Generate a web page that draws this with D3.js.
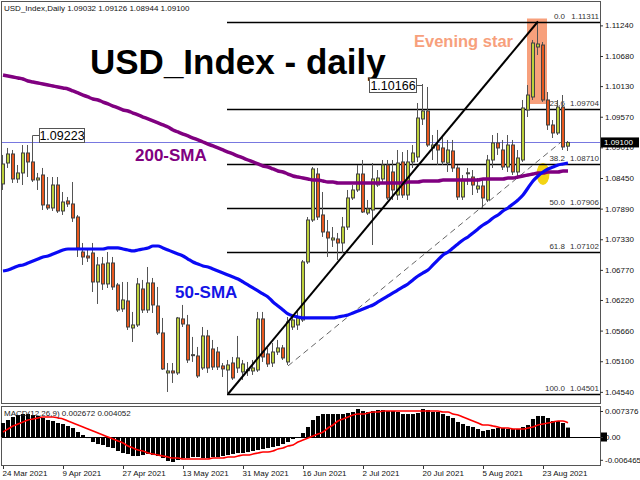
<!DOCTYPE html>
<html><head><meta charset="utf-8">
<script src="https://cdn.jsdelivr.net/npm/d3@7/dist/d3.min.js"></script>
<style>
html,body{margin:0;padding:0;background:#fff;}
svg{display:block;font-family:"Liberation Sans",Arial,sans-serif;}
</style></head><body>
<svg id="c" width="640" height="480"></svg>
<script>
// ---------- DATA ----------
const open = [1.08341,1.08724,1.08889,1.08432,1.08542,1.08907,1.08743,1.08414,1.08505,1.07957,
1.07902,1.08322,1.07847,1.08030,1.07975,1.07737,1.07097,1.07024,1.07079,1.06549,
1.06878,1.06513,1.06896,1.06494,1.06056,1.06202,1.05708,1.05763,1.06421,1.06037,
1.06531,1.06110,1.05617,1.04886,1.04922,1.04886,1.05873,1.05763,1.05215,1.05196,
1.04977,1.05562,1.05324,1.05269,1.05014,1.04940,1.05068,1.04977,1.04904,1.04940,
1.04922,1.04940,1.05873,1.05233,1.05068,1.05269,1.05343,1.05087,1.05726,1.05763,
1.05854,1.06915,1.07682,1.08523,1.07774,1.07463,1.07317,1.07335,1.07262,1.07554,
1.08085,1.08231,1.08523,1.07810,1.07865,1.08322,1.08432,1.08688,1.08560,1.08139,
1.08743,1.08139,1.08743,1.08834,1.09529,1.09675,1.08999,1.09053,1.08999,1.08724,
1.08944,1.08633,1.08103,1.08542,1.08468,1.08249,1.08304,1.08048,1.08779,1.09090,
1.08962,1.08651,1.09053,1.08560,1.08779,1.09693,1.09931,1.10845,1.10881,1.09876,
1.09419,1.09273,1.09748,1.09032];
const high = [1.08871,1.08999,1.08962,1.08688,1.09053,1.09053,1.09223,1.08542,1.08633,1.08468,
1.08468,1.08468,1.08194,1.08103,1.08377,1.07774,1.07262,1.07134,1.07262,1.07006,
1.07006,1.07097,1.07006,1.06531,1.06549,1.06549,1.06001,1.06622,1.06586,1.06823,
1.06622,1.06458,1.05891,1.05068,1.05068,1.05909,1.06129,1.05946,1.05544,1.05361,
1.05726,1.05672,1.05489,1.05361,1.05068,1.05123,1.05178,1.05562,1.05123,1.05087,
1.05123,1.06001,1.06001,1.05343,1.05434,1.05489,1.05397,1.05909,1.05946,1.06037,
1.06951,1.07737,1.08651,1.08633,1.08194,1.07682,1.07554,1.07445,1.07737,1.08231,
1.08322,1.08688,1.08779,1.08048,1.08724,1.08596,1.08779,1.08779,1.08779,1.08962,
1.08925,1.08962,1.09053,1.09821,1.10166,1.10114,1.09236,1.09328,1.09236,1.09145,
1.09145,1.08688,1.08505,1.08633,1.08596,1.08450,1.08450,1.08871,1.09236,1.09273,
1.09145,1.09236,1.09145,1.08962,1.09876,1.10150,1.10973,1.11311,1.10936,1.10022,
1.09510,1.09876,1.09967,1.09126];
const low = [1.08231,1.08633,1.08359,1.08359,1.08322,1.08468,1.08377,1.08231,1.07865,1.07865,
1.07847,1.07810,1.07774,1.07920,1.07646,1.07006,1.06860,1.06915,1.06366,1.06147,
1.06403,1.06439,1.06403,1.06001,1.06001,1.05672,1.05452,1.05726,1.05982,1.05982,
1.05982,1.05580,1.04940,1.04538,1.04703,1.04849,1.05726,1.05068,1.05087,1.04794,
1.04940,1.04886,1.04940,1.04940,1.04812,1.04501,1.04758,1.04886,1.04758,1.04831,
1.04849,1.04904,1.05087,1.04995,1.04995,1.05215,1.05123,1.05032,1.05672,1.05672,
1.05818,1.06878,1.07646,1.07682,1.07372,1.07006,1.07189,1.06951,1.07079,1.07500,
1.08048,1.08194,1.07810,1.07774,1.07225,1.08286,1.08359,1.08048,1.08048,1.08048,
1.08085,1.08048,1.08633,1.08743,1.09419,1.09017,1.08779,1.08688,1.08688,1.08560,
1.08560,1.08048,1.08048,1.08322,1.08139,1.08176,1.07902,1.08011,1.08633,1.08871,
1.08596,1.08560,1.08505,1.08450,1.08743,1.09565,1.09876,1.10699,1.09839,1.09328,
1.09181,1.09236,1.08962,1.08944];
const close = [1.08706,1.08889,1.08432,1.08542,1.08907,1.08743,1.08414,1.08450,1.07957,1.07902,
1.08322,1.07847,1.08011,1.07975,1.07719,1.07171,1.07006,1.06988,1.06549,1.06860,
1.06513,1.06896,1.06458,1.06037,1.06220,1.05726,1.05763,1.06513,1.06037,1.06531,
1.06129,1.05617,1.04959,1.04922,1.04886,1.05891,1.05781,1.05123,1.05220,1.04831,
1.05562,1.04977,1.04995,1.04995,1.04959,1.05032,1.04794,1.05160,1.05050,1.04945,
1.04977,1.05873,1.05178,1.05050,1.05269,1.05343,1.05160,1.05818,1.05854,1.05891,
1.06915,1.07682,1.08615,1.07737,1.07463,1.07353,1.07353,1.07262,1.07554,1.08085,
1.08231,1.08523,1.07829,1.07884,1.08432,1.08450,1.08688,1.08085,1.08231,1.08724,
1.08139,1.08743,1.08907,1.09547,1.09675,1.09053,1.09053,1.08962,1.08743,1.08962,
1.08633,1.08103,1.08414,1.08545,1.08322,1.08304,1.08085,1.08779,1.09090,1.08999,
1.08651,1.09053,1.08560,1.08816,1.09730,1.09967,1.10918,1.10900,1.09876,1.09419,
1.09273,1.09748,1.09017,1.09100];
const sma50 = [1.06750,1.06768,1.06805,1.06842,1.06860,1.06896,1.06933,1.06969,1.07006,1.07024,
1.07061,1.07097,1.07134,1.07152,1.07152,1.07152,1.07152,1.07152,1.07152,1.07152,
1.07152,1.07171,1.07171,1.07171,1.07152,1.07134,1.07116,1.07134,1.07152,1.07171,
1.07207,1.07207,1.07171,1.07134,1.07097,1.07061,1.07024,1.06969,1.06915,1.06878,
1.06842,1.06823,1.06787,1.06750,1.06714,1.06677,1.06640,1.06604,1.06549,1.06494,
1.06439,1.06385,1.06330,1.06275,1.06184,1.06110,1.06037,1.05964,1.05927,1.05909,
1.05891,1.05891,1.05891,1.05891,1.05891,1.05891,1.05891,1.05909,1.05927,1.05946,
1.05982,1.06019,1.06056,1.06092,1.06129,1.06184,1.06238,1.06293,1.06348,1.06403,
1.06458,1.06513,1.06586,1.06659,1.06714,1.06768,1.06860,1.06951,1.07043,1.07097,
1.07171,1.07244,1.07317,1.07372,1.07445,1.07518,1.07591,1.07646,1.07719,1.07774,
1.07847,1.07902,1.07975,1.08048,1.08139,1.08268,1.08395,1.08487,1.08560,1.08615,
1.08651,1.08688,1.08706,1.08724];
const sma200 = [1.10333,1.10315,1.10296,1.10278,1.10260,1.10223,1.10205,1.10187,1.10169,1.10150,
1.10132,1.10114,1.10095,1.10077,1.10041,1.10004,1.09967,1.09931,1.09894,1.09876,
1.09839,1.09803,1.09766,1.09730,1.09693,1.09675,1.09638,1.09602,1.09565,1.09529,
1.09492,1.09456,1.09419,1.09382,1.09328,1.09291,1.09254,1.09218,1.09181,1.09145,
1.09108,1.09071,1.09035,1.08999,1.08962,1.08925,1.08889,1.08852,1.08816,1.08779,
1.08743,1.08706,1.08669,1.08651,1.08615,1.08578,1.08560,1.08523,1.08487,1.08468,
1.08450,1.08432,1.08414,1.08414,1.08395,1.08377,1.08377,1.08359,1.08359,1.08359,
1.08359,1.08359,1.08359,1.08359,1.08359,1.08359,1.08359,1.08359,1.08359,1.08359,
1.08359,1.08377,1.08377,1.08377,1.08395,1.08395,1.08395,1.08395,1.08414,1.08414,
1.08414,1.08414,1.08414,1.08414,1.08414,1.08414,1.08432,1.08432,1.08432,1.08432,
1.08432,1.08450,1.08450,1.08468,1.08487,1.08505,1.08523,1.08542,1.08542,1.08560,
1.08560,1.08560,1.08578,1.08578];
const macd = [0.00397,0.00482,0.00567,0.00624,0.00652,0.00652,0.00624,0.00596,0.00539,0.00482,
0.00454,0.00397,0.00369,0.00312,0.00255,0.00142,0.00057,-0.00030,-0.00142,-0.00199,
-0.00227,-0.00284,-0.00312,-0.00397,-0.00454,-0.00482,-0.00539,-0.00539,-0.00511,-0.00482,
-0.00511,-0.00539,-0.00596,-0.00681,-0.00709,-0.00652,-0.00596,-0.00596,-0.00567,-0.00567,
-0.00596,-0.00596,-0.00567,-0.00567,-0.00539,-0.00511,-0.00482,-0.00454,-0.00454,-0.00426,
-0.00397,-0.00369,-0.00340,-0.00312,-0.00284,-0.00255,-0.00199,-0.00142,-0.00057,-0.00010,
0.00113,0.00284,0.00482,0.00596,0.00652,0.00652,0.00652,0.00652,0.00652,0.00681,
0.00709,0.00794,0.00738,0.00709,0.00738,0.00766,0.00766,0.00738,0.00738,0.00709,
0.00652,0.00652,0.00652,0.00681,0.00794,0.00766,0.00709,0.00709,0.00652,0.00596,
0.00539,0.00426,0.00369,0.00312,0.00284,0.00227,0.00170,0.00199,0.00227,0.00255,
0.00255,0.00227,0.00227,0.00227,0.00284,0.00340,0.00511,0.00596,0.00596,0.00539,
0.00454,0.00454,0.00397,0.002672];
const signal = [0.00142,0.00227,0.00312,0.00369,0.00426,0.00482,0.00511,0.00539,0.00567,0.00567,
0.00567,0.00539,0.00511,0.00454,0.00397,0.00340,0.00284,0.00227,0.00170,0.00113,
0.00057,0.00000,-0.00057,-0.00113,-0.00170,-0.00255,-0.00312,-0.00369,-0.00397,-0.00454,
-0.00482,-0.00511,-0.00539,-0.00567,-0.00596,-0.00596,-0.00624,-0.00624,-0.00624,-0.00624,
-0.00624,-0.00624,-0.00596,-0.00596,-0.00596,-0.00567,-0.00567,-0.00539,-0.00511,-0.00511,
-0.00482,-0.00454,-0.00426,-0.00426,-0.00397,-0.00340,-0.00312,-0.00255,-0.00227,-0.00142,
-0.00085,-0.00028,0.00028,0.00085,0.00142,0.00255,0.00340,0.00454,0.00511,0.00567,
0.00624,0.00652,0.00652,0.00681,0.00709,0.00709,0.00738,0.00738,0.00738,0.00738,
0.00738,0.00738,0.00738,0.00738,0.00738,0.00738,0.00738,0.00738,0.00709,0.00709,
0.00652,0.00624,0.00567,0.00511,0.00454,0.00397,0.00340,0.00340,0.00312,0.00284,
0.00255,0.00255,0.00227,0.00227,0.00227,0.00255,0.00284,0.00340,0.00369,0.00397,
0.00426,0.00454,0.00454,0.004052];
const priceTicks = [1.11240,1.10680,1.10130,1.09570,1.09010,1.08450,1.07890,1.07330,1.06770,1.06220,1.05660,1.05100,1.04540];
const macdTickLabels = ["0.007376","0.00","-0.006465"];
const macdTickValues = [0.007376,0,-0.006465];
const dateTickLabels = ["24 Mar 2021","9 Apr 2021","27 Apr 2021","13 May 2021","31 May 2021","16 Jun 2021","2 Jul 2021","20 Jul 2021","5 Aug 2021","23 Aug 2021"];
const fibLevels = ["0.0","23.6","38.2","50.0","61.8","100.0"];
const fibPrices = [1.11311,1.09704,1.08710,1.07906,1.07102,1.04501];
const lastPrice = 1.09100;
const headerText = "USD_Index,Daily  1.09032 1.09126 1.08944 1.09100";
const macdText = "MACD(12,26,9) 0.002672 0.004052";

// trading days (weekdays) starting 24 Mar 2021
const n = open.length;
const dates = [];
for (let d = new Date(Date.UTC(2021,2,24)); dates.length < n; d.setUTCDate(d.getUTCDate()+1)) {
  const wd = d.getUTCDay(); if (wd !== 0 && wd !== 6) dates.push(new Date(d));
}
const fmt = d3.utcFormat("%-d %b %Y");

// ---------- SCALES ----------
const svg = d3.select("#c");
const x = d3.scaleLinear().domain([0, n-1]).range([3, 3 + 5*(n-1)]);
const y = d3.scaleLinear().domain([1.04501, 1.11311]).range([394, 21.5]);
const ym = d3.scaleLinear().domain([-0.006465, 0.007376]).range([459.8, 411]);

const FONT = "Liberation Sans, Arial, sans-serif";

// frames
svg.append("rect").attr("x",1.5).attr("y",1.5).attr("width",599).attr("height",402)
  .attr("fill","#fff").attr("stroke","#555");
svg.append("rect").attr("x",1.5).attr("y",406.5).attr("width",599).attr("height",59)
  .attr("fill","#fff").attr("stroke","#555");

const main = svg.append("g");

// evening star highlight
main.append("rect")
  .attr("x", x(106)-6).attr("y", y(high[107])-3)
  .attr("width", x(108)+4-(x(106)-6)).attr("height", y(low[108])+2-(y(high[107])-3))
  .attr("fill","#f7a07c");

// yellow ellipse
main.append("ellipse").attr("cx", x(108)).attr("cy", y(1.08523)).attr("rx",6.5).attr("ry",11).attr("fill","#f3d414");

// fib lines
fibPrices.forEach((p,k)=>{
  main.append("line").attr("x1", x(45)-1).attr("x2", 600).attr("y1", Math.round(y(p))+0.5).attr("y2", Math.round(y(p))+0.5)
    .attr("stroke","#000").attr("stroke-width", k===5 ? 1.6 : 1.3);
  main.append("text").attr("x",565).attr("y", y(p)-3).attr("text-anchor","end")
    .attr("font-size",8).attr("fill","#333").text(fibLevels[k]);
  main.append("text").attr("x",599).attr("y", y(p)-3).attr("text-anchor","end")
    .attr("font-size",8).attr("fill","#333").text(p.toFixed(5));
});

// current price line
main.append("line").attr("x1",2).attr("x2",600).attr("y1",Math.round(y(lastPrice))+0.5).attr("y2",Math.round(y(lastPrice))+0.5)
  .attr("stroke","#7878e0").attr("stroke-width",1);

// title
main.append("text").attr("x",90).attr("y",74).attr("font-size",35).attr("font-weight","bold")
  .attr("fill","#000").text("USD_Index - daily");

// Evening star label
main.append("text").attr("x",414).attr("y",47).attr("font-size",16.5).attr("font-weight","bold")
  .attr("fill","#f7a07c").text("Evening star");

// dashed trend line
main.append("line").attr("x1",x(57)).attr("y1",y(1.05014)).attr("x2",x(112)).attr("y2",y(1.09136))
  .attr("stroke","#666").attr("stroke-width",1).attr("stroke-dasharray","6,4");

// candles
const idx = d3.range(n);
const cg = main.append("g");
cg.selectAll("line.w").data(idx).join("line")
  .attr("x1", i => x(i)-0.5).attr("x2", i => x(i)-0.5)
  .attr("y1", i => y(high[i])).attr("y2", i => y(low[i]))
  .attr("stroke","#555").attr("stroke-width",1);
cg.selectAll("rect.b").data(idx).join("rect")
  .attr("x", i => x(i)-1.5).attr("width",3)
  .attr("y", i => Math.min(y(open[i]), y(close[i])))
  .attr("height", i => Math.max(1, Math.abs(y(open[i]) - y(close[i]))))
  .attr("fill", i => close[i] >= open[i] ? "#bccf3a" : "#e8581e")
  .attr("stroke","#444").attr("stroke-width",1);

// SMA lines
const line = d3.line().x((d,i)=>x(i)).y(d=>y(d)).curve(d3.curveMonotoneX);
main.append("path").attr("d", line(sma200)).attr("fill","none").attr("stroke","#800080").attr("stroke-width",3.5);
main.append("path").attr("d", line(sma50)).attr("fill","none").attr("stroke","#0a0af5").attr("stroke-width",3.2);

// main trend line
main.append("line").attr("x1",x(45)).attr("y1",y(low[45])).attr("x2",x(107)).attr("y2",y(high[107]))
  .attr("stroke","#000").attr("stroke-width",2);

// SMA labels
main.append("text").attr("x",135).attr("y",161).attr("font-size",17).attr("font-weight","bold").attr("fill","#800080").text("200-SMA");
main.append("text").attr("x",175).attr("y",298).attr("font-size",17).attr("font-weight","bold").attr("fill","#1414e6").text("50-SMA");

// price callouts
function callout(i, val, bx, by, bw) {
  const hx = x(i)-0.5, hy = y(val);
  const midY = by + 7;
  if (bx > hx) {
    main.append("polyline").attr("points", `${hx},${hy} ${hx},${midY} ${bx},${midY}`).attr("fill","none").attr("stroke","#555");
  } else {
    main.append("polyline").attr("points", `${bx+bw},${midY} ${hx},${midY} ${hx},${hy}`).attr("fill","none").attr("stroke","#555");
  }
  main.append("rect").attr("x",bx).attr("y",by).attr("width",bw).attr("height",14).attr("fill","#fff").attr("stroke","#555");
  main.append("text").attr("x",bx+bw/2).attr("y",by+11.5).attr("text-anchor","middle").attr("font-size",12.5).attr("fill","#000").text(val.toFixed(5));
}
callout(6, high[6], 39.5, 128.5, 45);
callout(84, high[84], 369.5, 78.5, 47);

// header
svg.append("text").attr("x",4).attr("y",11).attr("font-size",8).attr("fill","#111").text(headerText);

// price axis
const pAxis = svg.append("g").attr("transform","translate(600,0)")
  .call(d3.axisRight(y).tickValues(priceTicks).tickSize(3).tickPadding(2).tickFormat(d3.format(".5f")));
pAxis.select(".domain").remove();
pAxis.selectAll("text").attr("font-size",8).attr("font-family",FONT).attr("fill","#111");
pAxis.selectAll("line").attr("stroke","#333");

// last price label
svg.append("rect").attr("x",601).attr("y",y(lastPrice)-5).attr("width",38).attr("height",10).attr("fill","#000");
svg.append("text").attr("x",604).attr("y",y(lastPrice)+3).attr("font-size",8).attr("fill","#fff").text(lastPrice.toFixed(5));

// MACD panel
const mg = svg.append("g");
mg.append("line").attr("x1",2).attr("x2",600).attr("y1",Math.round(ym(0))+0.5).attr("y2",Math.round(ym(0))+0.5).attr("stroke","#000");
mg.selectAll("rect").data(idx).join("rect")
  .attr("x", i => x(i)-2).attr("width",4)
  .attr("y", i => Math.min(ym(macd[i]), ym(0)))
  .attr("height", i => Math.abs(ym(macd[i]) - ym(0)))
  .attr("fill","#000");
const sline = d3.line().x((d,i)=>x(i)).y(d=>ym(d)).curve(d3.curveMonotoneX);
mg.append("path").attr("d", sline(signal)).attr("fill","none").attr("stroke","#f00").attr("stroke-width",1.6);
mg.append("text").attr("x",4).attr("y",416).attr("font-size",8).attr("fill","#222").text(macdText);

// MACD current marker then axis
svg.append("rect").attr("x",601).attr("y",ym(0)-4.5).attr("width",6).attr("height",9).attr("fill","#000");
const mAxis = svg.append("g").attr("transform","translate(600,0)")
  .call(d3.axisRight(ym).tickValues(macdTickValues).tickSize(3).tickPadding(2).tickFormat((d,k)=>macdTickLabels[k]));
mAxis.select(".domain").remove();
mAxis.selectAll("text").attr("font-size",8).attr("font-family",FONT).attr("fill","#111");
mAxis.selectAll("line").attr("stroke","#333");

// date axis
const tickIdx = idx.filter(i => dateTickLabels.includes(fmt(dates[i])));
const dAxis = svg.append("g").attr("transform","translate(0,466)")
  .call(d3.axisBottom(x).tickValues(tickIdx).tickSize(3).tickPadding(1).tickFormat(i => fmt(dates[i])));
dAxis.select(".domain").remove();
dAxis.selectAll("text").attr("font-size",8).attr("font-family",FONT).attr("fill","#111").attr("text-anchor","start").attr("dx",-1);
dAxis.selectAll("line").attr("stroke","#333");
</script>
</body></html>
